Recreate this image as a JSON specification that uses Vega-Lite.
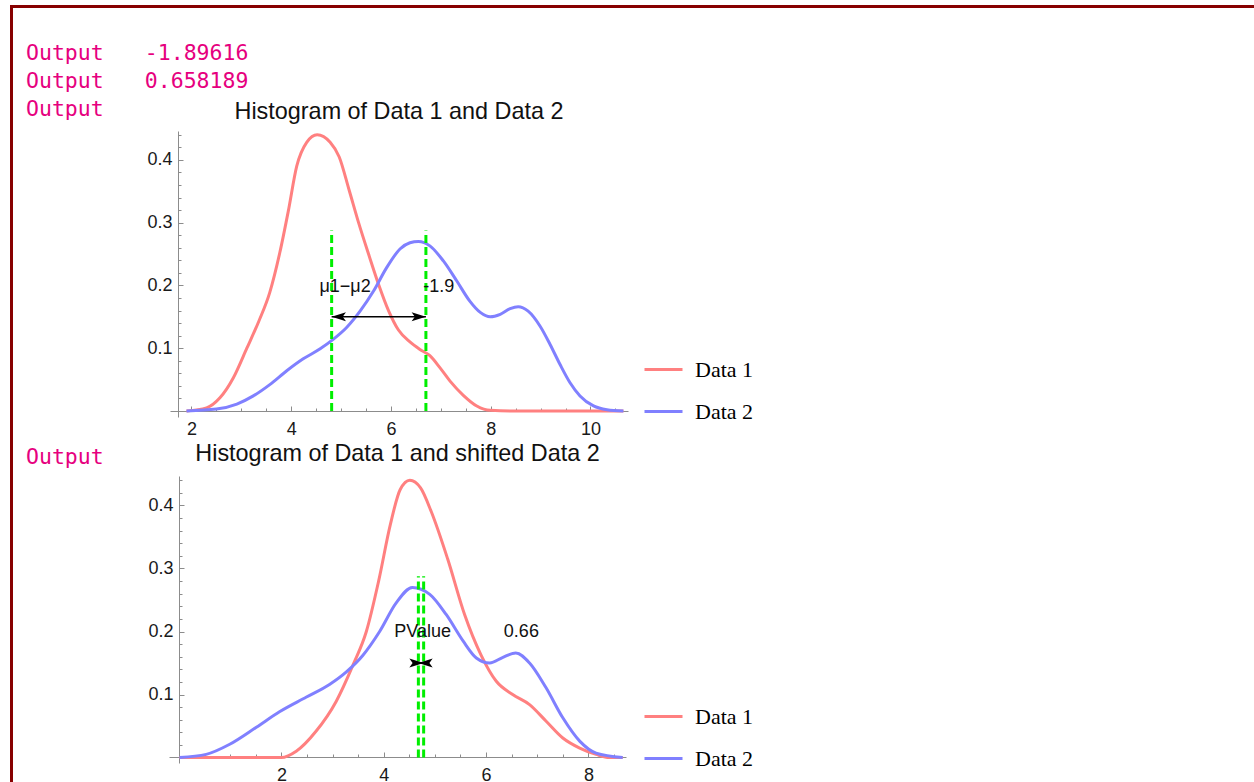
{
  "$schema": "https://vega.github.io/schema/vega-lite/v6.json",
  "background": "white",
  "padding": {"left": 10, "top": 5, "right": 0, "bottom": 0},
  "config": {
    "view": {"stroke": null},
    "font": "Liberation Sans",
    "axis": {"grid": false, "domainColor": "#8c8c8c", "tickColor": "#8c8c8c", "labelColor": "#1a1a1a", "labelFont": "Liberation Sans", "labelFontSize": 18, "labelOverlap": false, "labelFlush": false, "labelBound": false, "domainWidth": 1, "tickWidth": 1}
  },
  "datasets": {
    "header": [
      {"line": 1, "col": 0, "text": "Output"},
      {"line": 1, "col": 1, "text": "-1.89616"},
      {"line": 2, "col": 0, "text": "Output"},
      {"line": 2, "col": 1, "text": "0.658189"}
    ],
    "curves1": [
      {"series": "Data 1", "x": 1.90, "y": 0},
      {"series": "Data 1", "x": 2.30, "y": 0.005},
      {"series": "Data 1", "x": 2.57, "y": 0.021},
      {"series": "Data 1", "x": 2.84, "y": 0.053},
      {"series": "Data 1", "x": 3.11, "y": 0.100},
      {"series": "Data 1", "x": 3.35, "y": 0.143},
      {"series": "Data 1", "x": 3.57, "y": 0.189},
      {"series": "Data 1", "x": 3.77, "y": 0.252},
      {"series": "Data 1", "x": 3.94, "y": 0.318},
      {"series": "Data 1", "x": 4.11, "y": 0.39},
      {"series": "Data 1", "x": 4.31, "y": 0.428},
      {"series": "Data 1", "x": 4.52, "y": 0.44},
      {"series": "Data 1", "x": 4.78, "y": 0.428},
      {"series": "Data 1", "x": 4.96, "y": 0.405},
      {"series": "Data 1", "x": 5.16, "y": 0.352},
      {"series": "Data 1", "x": 5.35, "y": 0.3},
      {"series": "Data 1", "x": 5.55, "y": 0.25},
      {"series": "Data 1", "x": 5.75, "y": 0.202},
      {"series": "Data 1", "x": 5.95, "y": 0.16},
      {"series": "Data 1", "x": 6.15, "y": 0.129},
      {"series": "Data 1", "x": 6.38, "y": 0.11},
      {"series": "Data 1", "x": 6.58, "y": 0.098},
      {"series": "Data 1", "x": 6.78, "y": 0.088},
      {"series": "Data 1", "x": 6.98, "y": 0.069},
      {"series": "Data 1", "x": 7.18, "y": 0.048},
      {"series": "Data 1", "x": 7.45, "y": 0.025},
      {"series": "Data 1", "x": 7.72, "y": 0.008},
      {"series": "Data 1", "x": 7.99, "y": 0.001},
      {"series": "Data 1", "x": 8.5, "y": 0},
      {"series": "Data 1", "x": 9.5, "y": 0},
      {"series": "Data 1", "x": 10.66, "y": 0},
      {"series": "Data 2", "x": 1.90, "y": 0},
      {"series": "Data 2", "x": 2.50, "y": 0.003},
      {"series": "Data 2", "x": 2.91, "y": 0.011},
      {"series": "Data 2", "x": 3.24, "y": 0.024},
      {"series": "Data 2", "x": 3.57, "y": 0.042},
      {"series": "Data 2", "x": 3.91, "y": 0.064},
      {"series": "Data 2", "x": 4.24, "y": 0.083},
      {"series": "Data 2", "x": 4.58, "y": 0.099},
      {"series": "Data 2", "x": 4.84, "y": 0.114},
      {"series": "Data 2", "x": 5.11, "y": 0.133},
      {"series": "Data 2", "x": 5.38, "y": 0.159},
      {"series": "Data 2", "x": 5.65, "y": 0.191},
      {"series": "Data 2", "x": 5.91, "y": 0.228},
      {"series": "Data 2", "x": 6.18, "y": 0.258},
      {"series": "Data 2", "x": 6.38, "y": 0.268},
      {"series": "Data 2", "x": 6.55, "y": 0.27},
      {"series": "Data 2", "x": 6.78, "y": 0.263},
      {"series": "Data 2", "x": 7.05, "y": 0.239},
      {"series": "Data 2", "x": 7.32, "y": 0.207},
      {"series": "Data 2", "x": 7.58, "y": 0.175},
      {"series": "Data 2", "x": 7.79, "y": 0.157},
      {"series": "Data 2", "x": 7.99, "y": 0.150},
      {"series": "Data 2", "x": 8.19, "y": 0.154},
      {"series": "Data 2", "x": 8.39, "y": 0.163},
      {"series": "Data 2", "x": 8.55, "y": 0.166},
      {"series": "Data 2", "x": 8.75, "y": 0.159},
      {"series": "Data 2", "x": 8.99, "y": 0.135},
      {"series": "Data 2", "x": 9.19, "y": 0.106},
      {"series": "Data 2", "x": 9.39, "y": 0.074},
      {"series": "Data 2", "x": 9.59, "y": 0.045},
      {"series": "Data 2", "x": 9.79, "y": 0.024},
      {"series": "Data 2", "x": 10.06, "y": 0.008},
      {"series": "Data 2", "x": 10.33, "y": 0.002},
      {"series": "Data 2", "x": 10.66, "y": 0}
    ],
    "curves2": [
      {"series": "Data 1", "x": 0.01, "y": 0},
      {"series": "Data 1", "x": 1.0, "y": 0},
      {"series": "Data 1", "x": 2.0, "y": 0},
      {"series": "Data 1", "x": 2.29, "y": 0.01},
      {"series": "Data 1", "x": 2.68, "y": 0.042},
      {"series": "Data 1", "x": 3.07, "y": 0.089},
      {"series": "Data 1", "x": 3.40, "y": 0.147},
      {"series": "Data 1", "x": 3.66, "y": 0.2},
      {"series": "Data 1", "x": 3.90, "y": 0.28},
      {"series": "Data 1", "x": 4.13, "y": 0.37},
      {"series": "Data 1", "x": 4.32, "y": 0.425},
      {"series": "Data 1", "x": 4.51, "y": 0.44},
      {"series": "Data 1", "x": 4.72, "y": 0.428},
      {"series": "Data 1", "x": 4.93, "y": 0.39},
      {"series": "Data 1", "x": 5.25, "y": 0.315},
      {"series": "Data 1", "x": 5.58, "y": 0.227},
      {"series": "Data 1", "x": 5.90, "y": 0.163},
      {"series": "Data 1", "x": 6.20, "y": 0.121},
      {"series": "Data 1", "x": 6.52, "y": 0.10},
      {"series": "Data 1", "x": 6.85, "y": 0.084},
      {"series": "Data 1", "x": 7.17, "y": 0.058},
      {"series": "Data 1", "x": 7.50, "y": 0.031},
      {"series": "Data 1", "x": 7.83, "y": 0.015},
      {"series": "Data 1", "x": 8.15, "y": 0.005},
      {"series": "Data 1", "x": 8.41, "y": 0},
      {"series": "Data 1", "x": 8.67, "y": 0},
      {"series": "Data 2", "x": 0.01, "y": 0},
      {"series": "Data 2", "x": 0.53, "y": 0.005},
      {"series": "Data 2", "x": 0.99, "y": 0.021},
      {"series": "Data 2", "x": 1.51, "y": 0.048},
      {"series": "Data 2", "x": 1.97, "y": 0.073},
      {"series": "Data 2", "x": 2.49, "y": 0.096},
      {"series": "Data 2", "x": 2.94, "y": 0.116},
      {"series": "Data 2", "x": 3.27, "y": 0.136},
      {"series": "Data 2", "x": 3.59, "y": 0.162},
      {"series": "Data 2", "x": 3.92, "y": 0.2},
      {"series": "Data 2", "x": 4.24, "y": 0.245},
      {"series": "Data 2", "x": 4.56, "y": 0.27},
      {"series": "Data 2", "x": 4.90, "y": 0.259},
      {"series": "Data 2", "x": 5.22, "y": 0.227},
      {"series": "Data 2", "x": 5.55, "y": 0.185},
      {"series": "Data 2", "x": 5.81, "y": 0.158},
      {"series": "Data 2", "x": 6.07, "y": 0.150},
      {"series": "Data 2", "x": 6.33, "y": 0.159},
      {"series": "Data 2", "x": 6.58, "y": 0.166},
      {"series": "Data 2", "x": 6.85, "y": 0.150},
      {"series": "Data 2", "x": 7.17, "y": 0.111},
      {"series": "Data 2", "x": 7.50, "y": 0.063},
      {"series": "Data 2", "x": 7.83, "y": 0.026},
      {"series": "Data 2", "x": 8.15, "y": 0.007},
      {"series": "Data 2", "x": 8.67, "y": 0}
    ],
    "means1": [{"series": "Data 1", "mean": 4.81}, {"series": "Data 2", "mean": 6.70}],
    "means2": [{"series": "Data 2 shifted", "mean": 4.677}, {"series": "Data 1", "mean": 4.78}],
    "arrow1": [{"from": 4.81, "to": 6.70}],
    "arrow2": [{"from": 4.677, "to": 4.78}],
    "notes1": [{"label": "μ1−μ2", "x": 5.08}, {"label": "-1.9", "x": 6.96}],
    "notes2": [{"label": "PValue", "x": 4.76}, {"label": "0.66", "x": 6.69}]
  },
  "spacing": 0,
  "vconcat": [
    {
      "width": 1244, "height": 3,
      "view": {"fill": "#870000", "stroke": null},
      "data": {"values": []},
      "mark": "rect",
      "encoding": {}
    },
    {
      "spacing": 13,
      "hconcat": [
        {
          "width": 3, "height": 774,
          "view": {"fill": "#870000", "stroke": null},
          "data": {"values": []},
          "mark": "rect",
          "encoding": {}
        },
        {
          "spacing": 1,
          "resolve": {"scale": {"color": "independent"}, "legend": {"color": "independent"}},
          "vconcat": [
            {
              "width": 1200, "height": 89,
              "data": {"name": "header"},
              "mark": {"type": "text", "align": "left", "baseline": "alphabetic", "font": "DejaVu Sans Mono", "fontSize": 21.5, "color": "#e6007e"},
              "encoding": {
                "x": {"field": "col", "type": "quantitative", "scale": {"domain": [0, 10.1], "nice": false, "zero": false}, "axis": null},
                "y": {"field": "line", "type": "quantitative", "scale": {"domain": [-0.891, 2.345], "nice": false, "zero": false, "reverse": true}, "axis": null},
                "text": {"field": "text"}
              }
            },
            {
              "spacing": 20,
              "resolve": {"scale": {"color": "independent"}, "legend": {"color": "independent"}},
              "hconcat": [
                {
                  "width": 100, "height": 10,
                  "title": {"text": "Output", "anchor": "start", "frame": "group", "font": "DejaVu Sans Mono", "fontSize": 21.5, "fontWeight": "normal", "color": "#e6007e", "offset": 10},
                  "data": {"values": [{}]},
                  "mark": {"type": "text"},
                  "encoding": {"text": {"value": ""}}
                },
                {
                  "width": 458, "height": 286,
                  "title": {"text": "Histogram of Data 1 and Data 2", "anchor": "middle", "frame": "group", "font": "Liberation Sans", "fontSize": 23.4, "fontWeight": "normal", "color": "#111111", "offset": 1},
                  "encoding": {
                    "x": {"type": "quantitative", "scale": {"domain": [1.569, 10.752], "nice": false, "zero": false},
                      "axis": {"title": null, "offset": -6, "labelPadding": 14,
                        "values": [2,2.5,3,3.5,4,4.5,5,5.5,6,6.5,7,7.5,8,8.5,9,9.5,10,10.5],
                        "labelExpr": "datum.value % 2 === 0 ? format(datum.value, 'd') : ''",
                        "tickSize": {"condition": {"test": "datum.value % 2 === 0", "value": -5}, "value": -3}}},
                    "y": {"type": "quantitative", "scale": {"domain": [-0.0096, 0.446], "nice": false, "zero": false},
                      "axis": {"title": null, "offset": -8, "labelPadding": 11,
                        "values": [0.02,0.04,0.06,0.08,0.1,0.12,0.14,0.16,0.18,0.2,0.22,0.24,0.26,0.28,0.3,0.32,0.34,0.36,0.38,0.4,0.42,0.44],
                        "labelExpr": "abs(datum.value*10 - round(datum.value*10)) < 0.001 ? format(datum.value, '.1f') : ''",
                        "tickSize": {"condition": {"test": "abs(datum.value*10 - round(datum.value*10)) < 0.001", "value": -5}, "value": -3}}}
                  },
                  "layer": [
                    {
                      "data": {"name": "curves1"},
                      "mark": {"type": "line", "strokeWidth": 3, "interpolate": "monotone"},
                      "encoding": {
                        "x": {"field": "x", "type": "quantitative"},
                        "y": {"field": "y", "type": "quantitative"},
                        "color": {"field": "series", "type": "nominal",
                          "scale": {"domain": ["Data 1", "Data 2"], "range": ["#ff8080", "#8080ff"]},
                          "legend": {"title": null, "orient": "none", "legendX": 473, "legendY": 218, "symbolType": "stroke", "symbolSize": 1444, "symbolStrokeWidth": 3, "labelFont": "Liberation Serif", "labelFontSize": 22, "labelColor": "black", "labelOffset": 11, "rowPadding": 10, "labelLimit": 300}}
                      }
                    },
                    {
                      "data": {"name": "means1"},
                      "mark": {"type": "rule", "color": "#00ee00", "strokeWidth": 3, "strokeDash": [8, 4]},
                      "encoding": {"x": {"field": "mean", "type": "quantitative"}, "y": {"datum": 0}, "y2": {"datum": 0.2875}}
                    },
                    {
                      "data": {"name": "arrow1"},
                      "mark": {"type": "rule", "color": "black", "strokeWidth": 1.5},
                      "encoding": {"x": {"field": "from", "type": "quantitative"}, "x2": {"field": "to"}, "y": {"datum": 0.15}}
                    },
                    {
                      "data": {"name": "arrow1"},
                      "mark": {"type": "point", "shape": "M0,0L2.2,-0.7L1.7,0L2.2,0.7Z", "size": 169, "filled": true, "color": "black", "opacity": 1, "strokeWidth": 0},
                      "encoding": {"x": {"field": "from", "type": "quantitative"}, "y": {"datum": 0.15}}
                    },
                    {
                      "data": {"name": "arrow1"},
                      "mark": {"type": "point", "shape": "M0,0L-2.2,-0.7L-1.7,0L-2.2,0.7Z", "size": 169, "filled": true, "color": "black", "opacity": 1, "strokeWidth": 0},
                      "encoding": {"x": {"field": "to", "type": "quantitative"}, "y": {"datum": 0.15}}
                    },
                    {
                      "data": {"name": "notes1"},
                      "mark": {"type": "text", "font": "Liberation Sans", "fontSize": 18, "color": "#111111", "align": "center", "baseline": "middle"},
                      "encoding": {"x": {"field": "x", "type": "quantitative"}, "y": {"datum": 0.197}, "text": {"field": "label"}}
                    }
                  ]
                }
              ]
            },
            {
              "spacing": 20,
              "resolve": {"scale": {"color": "independent"}, "legend": {"color": "independent"}},
              "hconcat": [
                {
                  "width": 101, "height": 10,
                  "title": {"text": "Output", "anchor": "start", "frame": "group", "font": "DejaVu Sans Mono", "fontSize": 21.5, "fontWeight": "normal", "color": "#e6007e", "offset": 7},
                  "data": {"values": [{}]},
                  "mark": {"type": "text"},
                  "encoding": {"text": {"value": ""}}
                },
                {
                  "width": 457, "height": 287,
                  "title": {"text": "Histogram of Data 1 and shifted Data 2", "anchor": "middle", "frame": "group", "font": "Liberation Sans", "fontSize": 23.4, "fontWeight": "normal", "color": "#111111", "offset": 5},
                  "encoding": {
                    "x": {"type": "quantitative", "scale": {"domain": [-0.197, 8.735], "nice": false, "zero": false},
                      "axis": {"title": null, "offset": -6, "labelPadding": 14,
                        "values": [0.5,1,1.5,2,2.5,3,3.5,4,4.5,5,5.5,6,6.5,7,7.5,8,8.5],
                        "labelExpr": "datum.value % 2 === 0 ? format(datum.value, 'd') : ''",
                        "tickSize": {"condition": {"test": "datum.value % 2 === 0", "value": -5}, "value": -3}}},
                    "y": {"type": "quantitative", "scale": {"domain": [-0.0087, 0.4468], "nice": false, "zero": false},
                      "axis": {"title": null, "offset": -10, "labelPadding": 11,
                        "values": [0.02,0.04,0.06,0.08,0.1,0.12,0.14,0.16,0.18,0.2,0.22,0.24,0.26,0.28,0.3,0.32,0.34,0.36,0.38,0.4,0.42,0.44],
                        "labelExpr": "abs(datum.value*10 - round(datum.value*10)) < 0.001 ? format(datum.value, '.1f') : ''",
                        "tickSize": {"condition": {"test": "abs(datum.value*10 - round(datum.value*10)) < 0.001", "value": -5}, "value": -3}}}
                  },
                  "layer": [
                    {
                      "data": {"name": "curves2"},
                      "mark": {"type": "line", "strokeWidth": 3, "interpolate": "monotone"},
                      "encoding": {
                        "x": {"field": "x", "type": "quantitative"},
                        "y": {"field": "y", "type": "quantitative"},
                        "color": {"field": "series", "type": "nominal",
                          "scale": {"domain": ["Data 1", "Data 2"], "range": ["#ff8080", "#8080ff"]},
                          "legend": {"title": null, "orient": "none", "legendX": 474, "legendY": 220, "symbolType": "stroke", "symbolSize": 1444, "symbolStrokeWidth": 3, "labelFont": "Liberation Serif", "labelFontSize": 22, "labelColor": "black", "labelOffset": 11, "rowPadding": 10, "labelLimit": 300}}
                      }
                    },
                    {
                      "data": {"name": "means2"},
                      "mark": {"type": "rule", "color": "#00ee00", "strokeWidth": 3, "strokeDash": [8, 4]},
                      "encoding": {"x": {"field": "mean", "type": "quantitative"}, "y": {"datum": 0}, "y2": {"datum": 0.2875}}
                    },
                    {
                      "data": {"name": "arrow2"},
                      "mark": {"type": "rule", "color": "black", "strokeWidth": 1.5},
                      "encoding": {"x": {"field": "from", "type": "quantitative"}, "x2": {"field": "to"}, "y": {"datum": 0.15}}
                    },
                    {
                      "data": {"name": "arrow2"},
                      "mark": {"type": "point", "shape": "M0,0L2.2,-0.7L1.7,0L2.2,0.7Z", "size": 169, "filled": true, "color": "black", "opacity": 1, "strokeWidth": 0},
                      "encoding": {"x": {"field": "from", "type": "quantitative"}, "y": {"datum": 0.15}}
                    },
                    {
                      "data": {"name": "arrow2"},
                      "mark": {"type": "point", "shape": "M0,0L-2.2,-0.7L-1.7,0L-2.2,0.7Z", "size": 169, "filled": true, "color": "black", "opacity": 1, "strokeWidth": 0},
                      "encoding": {"x": {"field": "to", "type": "quantitative"}, "y": {"datum": 0.15}}
                    },
                    {
                      "data": {"name": "notes2"},
                      "mark": {"type": "text", "font": "Liberation Sans", "fontSize": 18, "color": "#111111", "align": "center", "baseline": "middle"},
                      "encoding": {"x": {"field": "x", "type": "quantitative"}, "y": {"datum": 0.2}, "text": {"field": "label"}}
                    }
                  ]
                }
              ]
            }
          ]
        }
      ]
    }
  ]
}
